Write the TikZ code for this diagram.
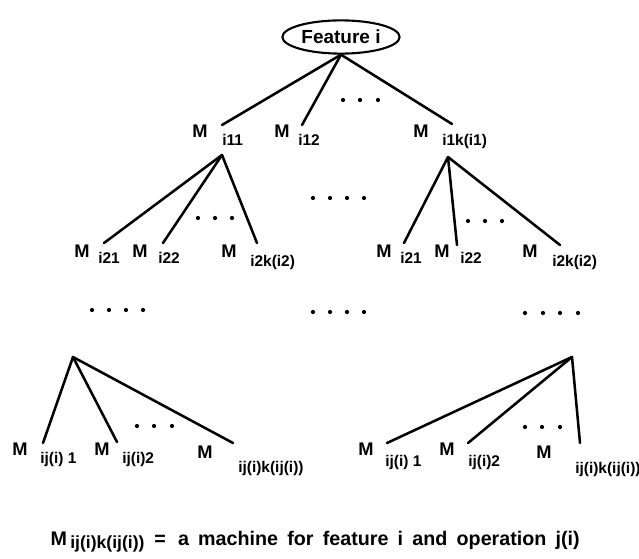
\documentclass[tikz,border=0pt]{standalone}
\usepackage{fontspec}
\setmainfont{Liberation Sans}
\usetikzlibrary{shapes.geometric}
\tikzset{
  branch/.style={line width=1.8pt, line cap=round},
  feat/.style={ellipse, draw, line width=1.5pt, minimum width=2.93cm, minimum height=0.83cm, inner sep=0pt, font=\bfseries\fontsize{13.5}{16}\selectfont},
  mlab/.style={font=\bfseries\fontsize{13}{15}\selectfont, inner sep=0pt, anchor=base},
  sublab/.style={font=\bfseries\fontsize{11}{13}\selectfont, inner sep=0pt, anchor=base west},
  keytext/.style={font=\bfseries\fontsize{14}{16}\selectfont, inner sep=0pt, anchor=base east}
}
\newcommand{\dotrow}[1]{\foreach \px/\py in {#1}{\fill (\px,\py) circle (1.5pt);}}

\begin{document}
\begin{tikzpicture}[x=0.025cm, y=-0.025cm]
  \useasboundingbox (0,0) rectangle (639,559);
  \node[feat] (feat) at (341,37) {Feature i};
  % machine labels: name / M position / subscript position / subscript
  \foreach \n/\mx/\my/\sx/\sy/\s in {
      m11/200/137/222/145/i11, m12/282/137/298/145/i12, m1k/421/137/442/145/i1k(i1),
      m21/82/257/98/263/i21, m22/140/257/158/263/i22, m2k/229/257/250/266/i2k(i2),
      n21/384/257/400/263/i21, n22/442/257/460/263/i22, n2k/530/257/552/266/i2k(i2),
      m31/20/455/40/463/ij(i) 1, m32/102/455/122/463/ij(i)2, m3k/205/458/238/472/ij(i)k(ij(i)),
      n31/366/455/385/466/ij(i) 1, n32/447/455/468/466/ij(i)2, n3k/544/458/575/473/ij(i)k(ij(i))}{
    \node[mlab] (\n) at (\mx,\my) {M};
    \node[sublab] (\n s) at (\sx,\sy) {\s};
  }
  \coordinate (c11) at (222,125);
  \coordinate (c12) at (302,125);
  \coordinate (c1k) at (452,124);
  \coordinate (a1) at (222,155);
  \coordinate (a2) at (448,157);
  \coordinate (b1) at (73,357);
  \coordinate (b2) at (572,357);
  \foreach \c in {c11,c12,c1k}{\draw[branch] (feat.south) -- (\c);}
  \foreach \c/\x/\y in {a1/104/243, a1/163/243, a1/257/243, a2/404/243, a2/457/245, a2/560/245,
      b1/43/443, b1/117/442, b1/233/443, b2/387/443, b2/468/443, b2/580/443}{
    \draw[branch] (\c) -- (\x,\y);
  }
  \dotrow{343/100, 360/100, 378/100}
  \dotrow{198/218, 215/218, 232/218, 468/221, 485/221, 502/221}
  \dotrow{313/198, 330/198, 347/198, 364/198}
  \dotrow{92/310, 109/310, 126/310, 143/310, 313/312, 330/312, 347/312, 364/312, 525/313, 543/313, 560/313, 578/313}
  \dotrow{137/426, 154/426, 172/426, 525/427, 542/427, 560/427}
  \node[keytext] (key) at (580,545) {\spaceskip=0.47em M\,\raisebox{-0.3ex}{\fontsize{12.5}{14}\selectfont ij(i)k(ij(i))}\hspace{0.5em}=\hspace{0.15em} a machine for feature i and operation j(i)};
\end{tikzpicture}
\end{document}
